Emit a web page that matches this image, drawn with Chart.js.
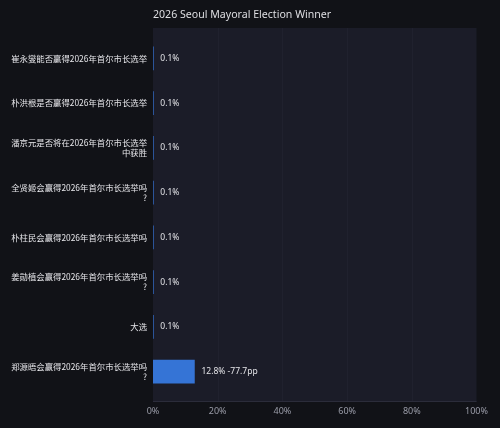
<!DOCTYPE html>
<html><head><meta charset="utf-8">
<script src="https://cdn.jsdelivr.net/npm/chart.js@4"></script>
<style>html,body{margin:0;padding:0;background:#111217;}canvas{display:block;}</style>
</head><body>
<div style="width:500px;height:428px;"><canvas id="c" width="500" height="428"></canvas></div>
<script>
const chartTitle = "2026 Seoul Mayoral Election Winner";
const categories = [
  ["崔永燮能否赢得2026年首尔市长选举"],
  ["朴洪根是否赢得2026年首尔市长选举"],
  ["潘京元是否将在2026年首尔市长选举","中获胜"],
  ["全贤姬会赢得2026年首尔市长选举吗","?"],
  ["朴柱民会赢得2026年首尔市长选举吗"],
  ["姜勋植会赢得2026年首尔市长选举吗","?"],
  ["大选"],
  ["郑源晤会赢得2026年首尔市长选举吗","?"]
];
const values = [0.1, 0.1, 0.1, 0.1, 0.1, 0.1, 0.1, 12.8];
const valueLabels = ["0.1%","0.1%","0.1%","0.1%","0.1%","0.1%","0.1%","12.8% -77.7pp"];
const xTicks = [0, 20, 40, 60, 80, 100];

const cjk = "'Noto Sans CJK SC','Noto Sans',sans-serif";
const latin = "'Noto Sans','Noto Sans CJK SC',sans-serif";
const PLOT_TOP = 28, PLOT_BOTTOM = 402;

const bgPlugin = {
  id: 'bg',
  beforeDraw(chart) {
    const {ctx, chartArea: a} = chart;
    const xs = chart.scales.x;
    ctx.save();
    ctx.fillStyle = '#111217';
    ctx.fillRect(0, 0, chart.width, chart.height);
    ctx.fillStyle = '#1b1c28';
    ctx.fillRect(a.left, PLOT_TOP, a.right - a.left, PLOT_BOTTOM - PLOT_TOP);
    ctx.strokeStyle = '#20212e';
    ctx.lineWidth = 1;
    xTicks.forEach(v => {
      if (v === 0 || v === 100) return;
      const x = Math.round(xs.getPixelForValue(v)) + 0.5;
      ctx.beginPath(); ctx.moveTo(x, PLOT_TOP); ctx.lineTo(x, PLOT_BOTTOM); ctx.stroke();
    });
    ctx.strokeStyle = '#2b2c3a';
    ctx.beginPath(); ctx.moveTo(a.left, PLOT_BOTTOM - 0.5); ctx.lineTo(a.right, PLOT_BOTTOM - 0.5); ctx.stroke();
    ctx.restore();
  },
  afterDraw(chart) {
    const {ctx, chartArea: a} = chart;
    ctx.save();
    ctx.font = "10.6px " + latin;
    ctx.fillStyle = '#dedee2';
    ctx.textAlign = 'left';
    ctx.textBaseline = 'middle';
    ctx.fillText(chartTitle, a.left, 15);
    const meta = chart.getDatasetMeta(0);
    ctx.font = "8.5px " + latin;
    ctx.fillStyle = '#e2e2e6';
    meta.data.forEach((bar, i) => {
      ctx.fillText(valueLabels[i], bar.x + 7, bar.y);
    });
    ctx.restore();
  }
};

new Chart(document.getElementById('c'), {
  type: 'bar',
  data: {
    labels: categories,
    datasets: [{
      data: values,
      backgroundColor: '#3574d6',
      borderWidth: 0,
      barThickness: 23
    }]
  },
  options: {
    indexAxis: 'y',
    responsive: false,
    animation: false,
    layout: { padding: { top: 36, right: 21, left: 0, bottom: 0 } },
    plugins: { legend: { display: false }, tooltip: { enabled: false }, title: { display: false } },
    scales: {
      x: {
        min: 0, max: 100,
        afterBuildTicks(axis) { axis.ticks = xTicks.map(v => ({value: v})); },
        afterFit(axis) { axis.height = 34; },
        grid: { display: false, drawTicks: false },
        border: { display: false },
        ticks: { color: '#9a9ca8', font: { size: 9, family: latin }, padding: 12, callback: v => v + '%' }
      },
      y: {
        grid: { display: false, drawTicks: false },
        border: { display: false },
        afterFit(axis) { axis.width = 153; },
        ticks: { color: '#e6e6ea', font: { size: 8.4, family: cjk }, padding: 6, autoSkip: false }
      }
    }
  },
  plugins: [bgPlugin]
});
</script>
</body></html>
